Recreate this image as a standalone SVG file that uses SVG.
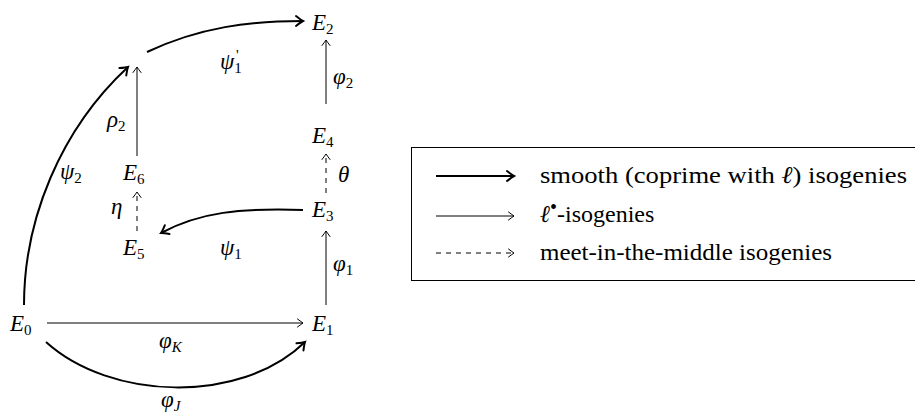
<svg xmlns="http://www.w3.org/2000/svg" width="915" height="417" viewBox="0 0 915 417" font-family="Liberation Serif">
<defs>
<marker id="ah" markerWidth="12" markerHeight="12" refX="0" refY="0" viewBox="-8 -6 10 12" orient="auto" markerUnits="userSpaceOnUse">
<path d="M-5.5,-4 Q-1.5,-1 0,0 Q-1.5,1 -5.5,4" fill="none" stroke="#000" stroke-width="1" stroke-linecap="round"/>
</marker>
<marker id="ahb" markerWidth="14" markerHeight="14" refX="0" refY="0" viewBox="-9 -7 11 14" orient="auto" markerUnits="userSpaceOnUse">
<path d="M-7,-5 Q-2,-1 0,0 Q-2,1 -7,5" fill="none" stroke="#000" stroke-width="2" stroke-linecap="round"/>
</marker>
</defs>
<rect width="915" height="417" fill="#fff"/>
<g font-style="italic" font-size="23">
<g id="E0"><text x="10" y="331">E<tspan font-style="normal" font-size="15" dy="4">0</tspan></text></g>
<g id="E1"><text x="312" y="331">E<tspan font-style="normal" font-size="15" dy="4">1</tspan></text></g>
<g id="E2"><text x="312" y="30">E<tspan font-style="normal" font-size="15" dy="4">2</tspan></text></g>
<g id="E3"><text x="312" y="217">E<tspan font-style="normal" font-size="15" dy="4">3</tspan></text></g>
<g id="E4"><text x="312" y="143">E<tspan font-style="normal" font-size="15" dy="4">4</tspan></text></g>
<g id="E5"><text x="123" y="255">E<tspan font-style="normal" font-size="15" dy="4">5</tspan></text></g>
<g id="E6"><text x="123" y="180">E<tspan font-style="normal" font-size="15" dy="4">6</tspan></text></g>
</g>
<g id="connectors" fill="none" stroke="#000">
<g stroke-width="1" marker-end="url(#ah)">
<path d="M47,323 H303"/>
<path d="M326,305 V231"/>
<path d="M326,104 V40"/>
<path d="M137,156 V67"/>
</g>
<g stroke-width="1" stroke-dasharray="5,5" marker-end="url(#ah)">
<path d="M326,193 V154"/>
<path d="M137,231 V192"/>
</g>
<g stroke-width="2" marker-end="url(#ahb)">
<path d="M24,305 C24,220 60,130 128,67"/>
<path d="M147,52 C200,27 250,21 303,21"/>
<path d="M303,210 C240,208 200,212 161,233"/>
<path d="M46,342 C110,400 240,405 305,342"/>
</g>
</g>
<g id="labels" font-style="italic" font-size="23">
<text x="159" y="348">φ<tspan font-size="15" dy="4">K</tspan></text>
<text x="161" y="407">φ<tspan font-size="15" dy="4">J</tspan></text>
<text x="333" y="271">φ<tspan font-style="normal" font-size="15" dy="4">1</tspan></text>
<text x="333" y="84">φ<tspan font-style="normal" font-size="15" dy="4">2</tspan></text>
<text x="338" y="182">θ</text>
<text x="111" y="214">η</text>
<text x="107" y="127">ρ<tspan font-style="normal" font-size="15" dy="4">2</tspan></text>
<text x="60" y="179">ψ<tspan font-style="normal" font-size="15" dy="4">2</tspan></text>
<text x="220" y="255">ψ<tspan font-style="normal" font-size="15" dy="4">1</tspan></text>
<text x="220" y="69">ψ<tspan font-style="normal" font-size="15" dy="4">1</tspan><tspan font-style="normal" font-size="15" x="236" dy="-13">'</tspan></text>
</g>
<g id="legend" font-size="24">
<rect x="411.5" y="147.5" width="510" height="133" fill="none" stroke="#000" stroke-width="1"/>
<path d="M436,176 H514" fill="none" stroke="#000" stroke-width="2" marker-end="url(#ahb)"/>
<path d="M436,216 H514" fill="none" stroke="#000" stroke-width="1" marker-end="url(#ah)"/>
<path d="M436,253 H514" fill="none" stroke="#000" stroke-width="1" stroke-dasharray="5,5" marker-end="url(#ah)"/>
<text x="540" y="183" textLength="367" lengthAdjust="spacingAndGlyphs">smooth (coprime with <tspan font-style="italic">ℓ</tspan>) isogenies</text>
<text x="540" y="222"><tspan font-style="italic">ℓ</tspan><tspan font-size="20" dy="-8">•</tspan><tspan dy="8">-isogenies</tspan></text>
<text x="540" y="260" textLength="292" lengthAdjust="spacingAndGlyphs">meet-in-the-middle isogenies</text>
</g>
</svg>
